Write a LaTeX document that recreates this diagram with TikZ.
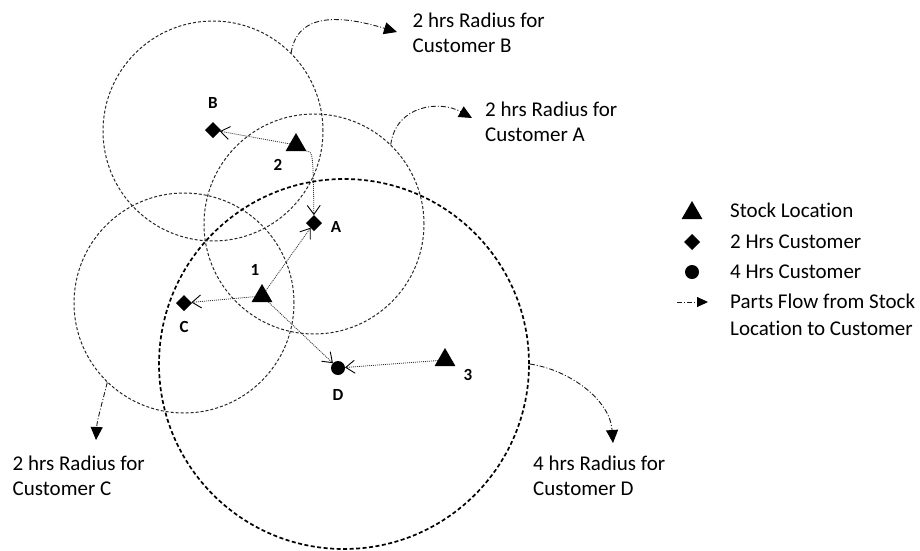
\documentclass[tikz,border=0pt]{standalone}
\usepackage{fontspec}
\setmainfont{Carlito}[Ligatures={NoCommon}]
\usetikzlibrary{shapes.geometric,arrows.meta}

\begin{document}
\begin{tikzpicture}[x=1pt,y=-1pt,
	stock/.style={regular polygon,regular polygon sides=3,fill=black,inner sep=0pt,outer sep=0pt,minimum size=24pt},
	twohrs/.style={diamond,fill=black,inner sep=0pt,outer sep=0pt,minimum size=16pt},
	fourhrs/.style={circle,fill=black,inner sep=0pt,outer sep=0pt,minimum size=14pt},
	reach/.style={circle,draw=black!85,line width=1pt,dash pattern=on 3pt off 2pt,inner sep=0pt,minimum size=220pt},
	flow/.style={black!80,line width=0.8pt,dash pattern=on 1pt off 1pt,-{Straight Barb[length=9pt,width=13pt,line width=0.9pt,color=black]}},
	pointer/.style={black!90,line width=0.9pt,dash pattern=on 5pt off 2pt on 1pt off 2pt,-{Triangle[length=13pt,width=12pt,color=black]}},
	ptlabel/.style={font=\fontsize{17}{20}\selectfont\bfseries},
	txt/.style={font=\fontsize{21}{25}\selectfont,align=left,anchor=base west,inner sep=0pt}]
	\useasboundingbox (0,0) rectangle (920,550);
	% service areas
	\node[reach] (cB) at (213,131) {};
	\node[reach] (cA) at (314,224) {};
	\node[reach] (cC) at (184,303) {};
	\node[reach,draw=black,line width=1.7pt,dash pattern=on 4pt off 2.5pt,minimum size=370pt] (cD) at (344,364) {};
	% stock locations and customers
	\node[stock] (t1) at (262,296) {};
	\node[stock] (t2) at (296,145) {};
	\node[stock] (t3) at (445,360) {};
	\node[twohrs] (A) at (314,223) {};
	\node[twohrs] (B) at (213,130) {};
	\node[twohrs] (C) at (184,303) {};
	\node[fourhrs] (D) at (338,368) {};
	\node[ptlabel] (lA) at (336,227) {A};
	\node[ptlabel] (lB) at (213,103) {B};
	\node[ptlabel] (lC) at (184,327) {C};
	\node[ptlabel] (lD) at (338,395) {D};
	\node[ptlabel] (l1) at (255,270) {1};
	\node[ptlabel] (l2) at (278,165) {2};
	\node[ptlabel] (l3) at (468,375) {3};
	% parts flow
	\draw[flow] (t2) -- (B);
	\draw[flow] (t2.corner 3) .. controls (313,152) .. (A);
	\draw[flow] (t1) -- (A);
	\draw[flow] (t1) -- (C);
	\draw[flow] (t1) -- (D);
	\draw[flow] (t3) -- (D);
	% radius callouts
	\coordinate (pB) at (397,32);
	\coordinate (pA) at (472,118);
	\coordinate (pC) at (96,440);
	\coordinate (pD) at (613,443);
	\draw[pointer] (cB.45) .. controls (298,8) and (350,18) .. (pB);
	\draw[pointer] (cA.46) .. controls (396,105) and (440,100) .. (pA);
	\draw[pointer] (cC.226) .. controls (103,400) and (97,420) .. (pC);
	\draw[pointer] (cD.0) .. controls (570,370) and (610,400) .. (pD);
	\node[txt] (tB) at (412.5,52) {2 hrs Radius for\\Customer B};
	\node[txt] (tA) at (485,141) {2 hrs Radius for\\Customer A};
	\node[txt] (tC) at (12.5,495) {2 hrs Radius for\\Customer C};
	\node[txt] (tD) at (533,495) {4 hrs Radius for\\Customer D};
	% legend
	\node[stock] (kS) at (692,213) {};
	\node[twohrs] (kA) at (692,242) {};
	\node[fourhrs] (kD) at (692,272) {};
	\coordinate (kF0) at (677,302);
	\coordinate (kF1) at (708,302);
	\draw[pointer,-{Triangle[length=11pt,width=10pt,color=black]}] (kF0) -- (kF1);
	\node[txt] (kSt) at (730,217) {Stock Location};
	\node[txt] (kAt) at (730,248) {2 Hrs Customer};
	\node[txt] (kDt) at (730,278) {4 Hrs Customer};
	\node[txt] (kFt) at (730,335) {Parts Flow from Stock\\[2pt]Location to Customer};
\end{tikzpicture}
\end{document}
